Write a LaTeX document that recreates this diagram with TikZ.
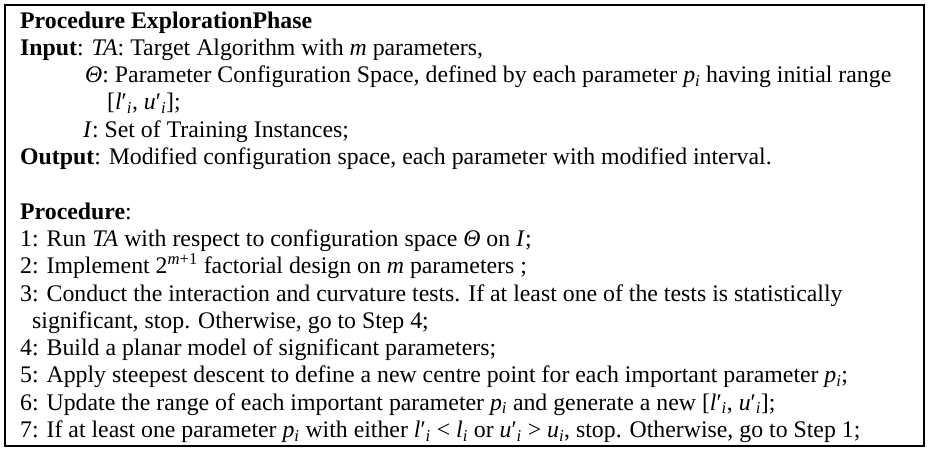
\documentclass[tikz,border=0pt]{standalone}
\usepackage{fontspec}
\setmainfont{Liberation Serif}
\newcommand{\vi}[1]{\textit{#1}}
\newcommand{\sub}[1]{\textsubscript{\textit{#1}}}
\newcommand{\pr}{′}
\begin{document}
\begin{tikzpicture}[x=1pt,y=-1pt,
  txt/.style={anchor=base west,inner sep=0pt,font=\fontsize{23.8}{27}\selectfont},
  frame/.style={draw=black,line width=2pt}]
\useasboundingbox (0,0) rectangle (928,450);
\draw[frame] (5,5) rectangle (924,446);
\def\L{27.3}
\node[txt] (t0) at (20,28) {\textbf{Procedure ExplorationPhase}};
\node[txt] (t1) at (20,28+1*\L) {\textbf{Input}: \vi{TA}: Target Algorithm with \vi{m} parameters,};
\node[txt] (t2) at (85,28+2*\L) {\vi{Θ}: Parameter Configuration Space, defined by each parameter \vi{p}\sub{i} having initial range};
\node[txt] (t3) at (107,28+3*\L) {[\vi{l}\pr\sub{i}, \vi{u}\pr\sub{i}];};
\node[txt] (t4) at (83,28+4*\L) {\vi{I}: Set of Training Instances;};
\node[txt] (t5) at (20,28+5*\L) {\textbf{Output}: Modified configuration space, each parameter with modified interval.};
\node[txt] (t7) at (20,28+7*\L) {\textbf{Procedure}:};
\node[txt] (t8) at (20,28+8*\L) {1: Run \vi{TA} with respect to configuration space \vi{Θ} on \vi{I};};
\node[txt] (t9) at (20,28+9*\L) {2: Implement 2\textsuperscript{\vi{m}+1} factorial design on \vi{m} parameters ;};
\node[txt] (t10) at (20,28+10*\L) {3: Conduct the interaction and curvature tests. If at least one of the tests is statistically};
\node[txt] (t11) at (32,28+11*\L) {significant, stop. Otherwise, go to Step 4;};
\node[txt] (t12) at (20,28+12*\L) {4: Build a planar model of significant parameters;};
\node[txt] (t13) at (20,28+13*\L) {5: Apply steepest descent to define a new centre point for each important parameter \vi{p}\sub{i};};
\node[txt] (t14) at (20,28+14*\L) {6: Update the range of each important parameter \vi{p}\sub{i} and generate a new [\vi{l}\pr\sub{i}, \vi{u}\pr\sub{i}];};
\node[txt] (t15) at (20,28+15*\L) {7: If at least one parameter \vi{p}\sub{i} with either \vi{l}\pr\sub{i} < \vi{l}\sub{i} or \vi{u}\pr\sub{i} > \vi{u}\sub{i}, stop. Otherwise, go to Step 1;};
\end{tikzpicture}
\end{document}
